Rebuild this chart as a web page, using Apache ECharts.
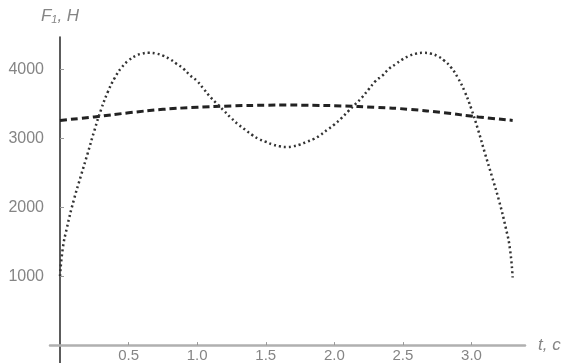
<!DOCTYPE html>
<html>
<head>
<meta charset="utf-8">
<script src="https://cdn.jsdelivr.net/npm/echarts@6/dist/echarts.min.js"></script>
<style>html,body{margin:0;padding:0;background:#fff}#c{width:570px;height:363px}</style>
</head>
<body>
<div id="c"></div>
<script>
// time, s
var tDotted = [0,0.02,0.05,0.1,0.15,0.2,0.25,0.3,0.35,0.4,0.45,0.5,0.55,0.6,0.65,0.7,0.75,0.8,0.85,0.9,0.95,1.0,1.05,1.1,1.15,1.2,1.25,1.3,1.35,1.4,1.45,1.5,1.55,1.6,1.65,
  1.7,1.75,1.8,1.85,1.9,1.95,2.0,2.05,2.1,2.15,2.2,2.25,2.3,2.35,2.4,2.45,2.5,2.55,2.6,2.65,2.7,2.75,2.8,2.85,2.9,2.95,3.0,3.05,3.1,3.15,3.2,3.25,3.28,3.3];
var fDotted = [1000,1400,1700,2100,2440,2770,3110,3420,3680,3880,4030,4130,4195,4230,4240,4230,4200,4150,4080,4010,3910,3830,3710,3590,3490,3390,3290,3200,3125,3050,2990,2950,2910,2885,2875,
  2885,2910,2950,2990,3050,3125,3200,3290,3390,3490,3590,3710,3830,3910,4010,4080,4150,4200,4230,4240,4230,4195,4130,4030,3880,3680,3420,3110,2770,2440,2100,1700,1400,980];
var tDashed = [0,0.25,0.5,0.75,1.0,1.25,1.5,1.65,1.8,2.05,2.3,2.55,2.8,3.05,3.3];
var fDashed = [3260,3310,3370,3420,3450,3470,3480,3482,3480,3470,3450,3420,3370,3310,3260];
var xTicks = [0.5,1.0,1.5,2.0,2.5,3.0];
var yTicks = [1000,2000,3000,4000];

function zip(a,b){var r=[];for(var i=0;i<a.length;i++)r.push([a[i],b[i]]);return r;}

var chart = echarts.init(document.getElementById('c'));
var labelColor = '#858585';
chart.setOption({
  animation:false,
  grid:{left:50,right:45,top:37,bottom:0,containLabel:false,outerBoundsMode:'none'},
  xAxis:{
    type:'value', min:-0.073, max:3.39,
    name:'t, c', nameLocation:'end', nameGap:13,
    nameTextStyle:{color:labelColor,fontStyle:'italic',fontSize:17,fontFamily:'Liberation Sans',verticalAlign:'middle'},
    axisLine:{onZero:true,lineStyle:{color:'#b0b0b0',width:2.5}},
    axisTick:{show:true,inside:true,length:3,customValues:xTicks,lineStyle:{color:'#999'}},
    axisLabel:{customValues:xTicks,color:labelColor,fontSize:15,fontFamily:'Liberation Sans',margin:-15,
      formatter:function(v){return v.toFixed(1);}},
    splitLine:{show:false}
  },
  yAxis:{
    type:'value', min:-260, max:4470,
    name:'{a|F}{s|1}{a|, H}', nameLocation:'end', nameGap:12,
    nameTextStyle:{align:'center',padding:[0,0,0,0],
      rich:{a:{color:labelColor,fontStyle:'italic',fontSize:17,fontFamily:'Liberation Sans'},
            s:{color:labelColor,fontStyle:'italic',fontSize:11,fontFamily:'Liberation Sans',padding:[6,0,0,0]}}},
    axisLine:{onZero:true,lineStyle:{color:'#333',width:1.6}},
    axisTick:{show:true,inside:true,length:4,customValues:yTicks,lineStyle:{color:'#999'}},
    axisLabel:{customValues:yTicks,color:labelColor,fontSize:16,fontFamily:'Liberation Sans',margin:6,
      formatter:function(v){return String(v);}},
    splitLine:{show:false}
  },
  series:[
    {type:'line',data:zip(tDashed,fDashed),smooth:true,showSymbol:false,
     lineStyle:{color:'#222',width:3,type:[7,4]}},
    {type:'line',data:zip(tDotted,fDotted),smooth:true,showSymbol:false,
     lineStyle:{color:'#333',width:2.5,type:[2,3]}}
  ]
});
</script>
</body>
</html>
